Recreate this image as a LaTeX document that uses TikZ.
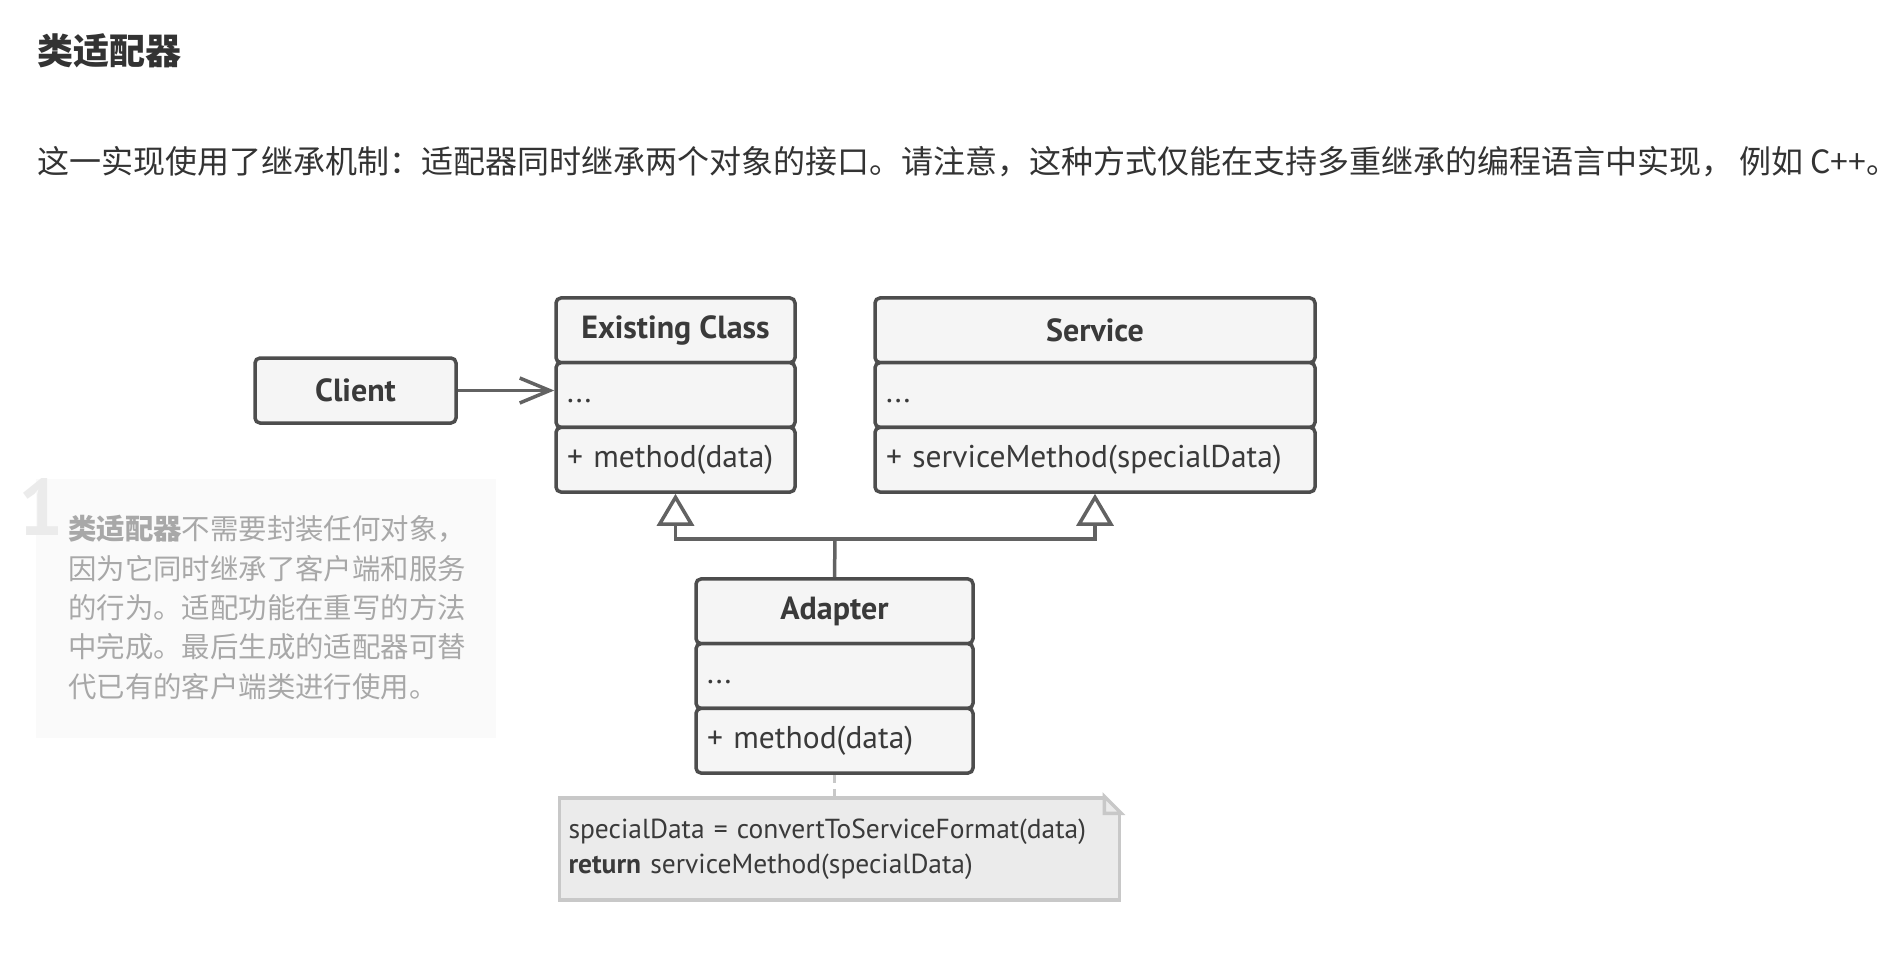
\documentclass[tikz,border=0pt]{standalone}
\usepackage{fontspec}
\setmainfont{PT Sans}
\newfontfamily\cjk{Noto Sans CJK SC}
\usetikzlibrary{arrows.meta}
\definecolor{ink}{HTML}{4D4D4D}
\definecolor{txt}{HTML}{3A3A3A}
\definecolor{boxfill}{HTML}{F5F5F5}
\definecolor{conn}{HTML}{626262}
\definecolor{notefill}{HTML}{EBEBEB}
\definecolor{notedraw}{HTML}{C8C8C8}
\definecolor{paneltext}{HTML}{A8A8A8}
\definecolor{panelfill}{HTML}{FAFAFA}
\definecolor{heading}{HTML}{333333}
\definecolor{bignum}{HTML}{EBEBEB}
\begin{document}
\begin{tikzpicture}[x=1pt,y=-1pt,
  comp/.style={draw=ink, fill=boxfill, line width=3.5pt, rounded corners=5pt,
    inner sep=0pt, text=txt, minimum height=64.7pt},
  headcomp/.style={comp, font=\fontsize{32pt}{38pt}\selectfont\bfseries},
  bodycomp/.style={comp, align=left, inner xsep=11pt,
    font=\fontsize{31.5pt}{37pt}\selectfont},
  conline/.style={draw=conn, line width=3.5pt},
  inh/.style={conline, -{Triangle[open, length=32pt, width=37pt, line width=3.5pt]}},
  assoc/.style={conline, -{Straight Barb[length=30pt, width=25pt, line width=3.5pt]}},
  panelline/.style={anchor=west, inner sep=0pt, text=paneltext,
    font=\cjk\fontsize{28.4pt}{34pt}\selectfont}
]
\useasboundingbox (0,0) rectangle (1902,964);
\fill[white] (0,0) rectangle (1902,964);

% heading and paragraph
\node[anchor=west, inner sep=0pt, text=heading,
  font=\cjk\fontsize{36pt}{42pt}\selectfont\bfseries] (title) at (37,51) {类适配器};
\node[anchor=west, inner sep=0pt, text=heading,
  font=\cjk\fontsize{32pt}{38pt}\selectfont] (para) at (37,162)
  {这一实现使用了继承机制：适配器同时继承两个对象的接口。请注意，这种方式仅能在支持多重继承的编程语言中实现，\hspace{6pt}例如 C++。};

% side panel
\fill[panelfill] (36,479) rectangle (496,738);
\node[anchor=base west, inner sep=0pt, text=bignum,
  font=\fontsize{80pt}{80pt}\selectfont\bfseries] (one) at (18,535) {1};
\node[panelline] (p1) at (68,529) {\textbf{类适配器}不需要封装任何对象，};
\node[panelline] (p2) at (68,569) {因为它同时继承了客户端和服务};
\node[panelline] (p3) at (68,608) {的行为。适配功能在重写的方法};
\node[panelline] (p4) at (68,647) {中完成。最后生成的适配器可替};
\node[panelline] (p5) at (68,687) {代已有的客户端类进行使用。};

% Client
\node[headcomp, minimum width=201pt, minimum height=65pt] (client) at (355.5,390.5) {Client};

% Existing Class
\node[headcomp, minimum width=239pt] (ech) at (675.5,330.3) {Existing Class};
\node[bodycomp, minimum width=239pt, text width=217pt] (eca) at (675.5,395) {\vphantom{Ay(}...};
\node[bodycomp, minimum width=239pt, text width=217pt] (ecm) at (675.5,459.7) {+ method(data)};

% Service
\node[headcomp, minimum width=440pt] (svh) at (1095,330.3) {Service};
\node[bodycomp, minimum width=440pt, text width=418pt] (sva) at (1095,395) {\vphantom{Ay(}...};
\node[bodycomp, minimum width=440pt, text width=418pt] (svm) at (1095,459.7) {+ serviceMethod(specialData)};

% Adapter
\node[headcomp, minimum width=277pt] (adh) at (834.5,611.3) {Adapter};
\node[bodycomp, minimum width=277pt, text width=255pt] (ada) at (834.5,676) {\vphantom{Ay(}...};
\node[bodycomp, minimum width=277pt, text width=255pt] (adm) at (834.5,740.7) {+ method(data)};

% connectors
\draw[assoc] (client.east) -- (eca.west |- client.east);
\coordinate (join) at (835,539);
\draw[inh] (join) -| (ecm.south);
\draw[inh] (join) -| (svm.south);
\draw[conline] (adh.north) -- (join);

% note
\node[draw=notedraw, fill=notefill, line width=3.5pt, minimum width=560pt,
  minimum height=102pt, text width=542pt, inner xsep=9pt, align=left, text=txt,
  font=\fontsize{27.5pt}{35pt}\selectfont] (note) at (839.5,849)
  {specialData = convertToServiceFormat(data)\\\textbf{return} serviceMethod(specialData)};
\fill[white] ([xshift=-17pt]note.north east) -- ([xshift=3pt,yshift=3pt]note.north east) -- ([yshift=-17pt]note.north east) -- cycle;
\filldraw[draw=notedraw, fill=notefill, line width=3.5pt, line join=miter]
  ([xshift=-17pt]note.north east) -- ([xshift=-17pt,yshift=-17pt]note.north east)
  -- ([yshift=-17pt]note.north east) -- cycle;
\draw[draw=notedraw, line width=3.5pt, dash pattern=on 8pt off 6pt]
  (adm.south) -- (note.north -| adm.south);
\end{tikzpicture}
\end{document}
